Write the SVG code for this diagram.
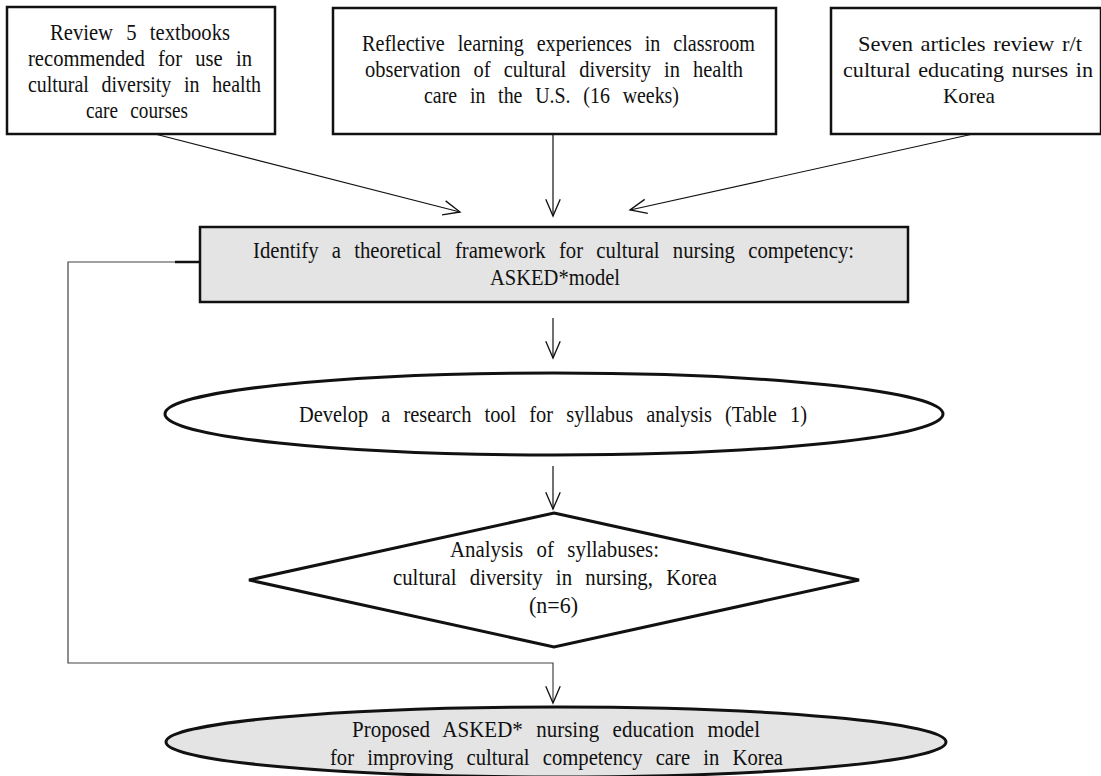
<svg xmlns="http://www.w3.org/2000/svg" width="1101" height="776" viewBox="0 0 1101 776">
<style>
text{font-family:"Liberation Serif","Times New Roman",serif;font-size:23px;fill:#111;word-spacing:9px}
.tight{font-size:22px;word-spacing:2px}
.box{fill:#fff;stroke:#111;stroke-width:2.5}
.gray{fill:#e4e4e4;stroke:#111;stroke-width:2.5}
.shape{fill:#fff;stroke:#111;stroke-width:3}
.shapeg{fill:#e4e4e4;stroke:#111;stroke-width:3}
.con{fill:none;stroke:#111;stroke-width:1.2}
.side{fill:none;stroke:#444;stroke-width:1.2}
</style>
<defs>
<marker id="v" markerUnits="userSpaceOnUse" markerWidth="20" markerHeight="20" viewBox="-16 -8 18 16" refX="0" refY="0" orient="auto">
<path d="M-15,-6.5 L0,0 L-15,6.5" fill="none" stroke="#111" stroke-width="1.2"/>
</marker>
</defs>
<rect width="1101" height="776" fill="#fff"/>
<g id="connectors">
<line class="con" x1="155" y1="134" x2="460" y2="212" marker-end="url(#v)"/>
<line class="con" x1="553" y1="134" x2="553" y2="216" marker-end="url(#v)"/>
<line class="con" x1="973" y1="134" x2="630" y2="210" marker-end="url(#v)"/>
<line class="con" x1="553" y1="318" x2="553" y2="358" marker-end="url(#v)"/>
<line class="con" x1="553" y1="466" x2="553" y2="509" marker-end="url(#v)"/>
<polyline class="side" points="175,262 68,262 68,663 553,663 553,703" marker-end="url(#v)"/>
<line x1="175" y1="262" x2="200" y2="262" stroke="#111" stroke-width="2.5"/>
</g>
<g id="n1" font-family="Liberation Serif, Times New Roman, serif">
<rect class="box" x="7" y="7" width="268" height="127"/>
<text x="50" y="40" textLength="180" lengthAdjust="spacingAndGlyphs">Review 5 textbooks</text>
<text x="28" y="66" textLength="224" lengthAdjust="spacingAndGlyphs">recommended for use in</text>
<text x="28" y="92" textLength="233" lengthAdjust="spacingAndGlyphs">cultural diversity in health</text>
<text x="86" y="118" textLength="102" lengthAdjust="spacingAndGlyphs">care courses</text>
</g>
<g id="n2" font-family="Liberation Serif, Times New Roman, serif">
<rect class="box" x="333" y="8" width="443" height="126"/>
<text x="362" y="51" textLength="393" lengthAdjust="spacingAndGlyphs">Reflective learning experiences in classroom</text>
<text x="365" y="77" textLength="378" lengthAdjust="spacingAndGlyphs">observation of cultural diversity in health</text>
<text x="424" y="103" textLength="255" lengthAdjust="spacingAndGlyphs">care in the U.S. (16 weeks)</text>
</g>
<g id="n3" font-family="Liberation Serif, Times New Roman, serif">
<rect class="box" x="831" y="8" width="270" height="126"/>
<text class="tight" x="858" y="51" textLength="224" lengthAdjust="spacingAndGlyphs">Seven articles review r/t</text>
<text class="tight" x="843" y="77" textLength="250" lengthAdjust="spacingAndGlyphs">cultural educating nurses in</text>
<text class="tight" x="943" y="103" textLength="52" lengthAdjust="spacingAndGlyphs">Korea</text>
</g>
<g id="n4" font-family="Liberation Serif, Times New Roman, serif">
<rect class="gray" x="200" y="227" width="708" height="75"/>
<text x="253" y="258" textLength="601" lengthAdjust="spacingAndGlyphs">Identify a theoretical framework for cultural nursing competency:</text>
<text x="490" y="285" textLength="130" lengthAdjust="spacingAndGlyphs">ASKED*model</text>
</g>
<g id="n5" font-family="Liberation Serif, Times New Roman, serif">
<ellipse class="shape" cx="554" cy="414" rx="389" ry="41"/>
<text x="299" y="422" textLength="508" lengthAdjust="spacingAndGlyphs">Develop a research tool for syllabus analysis (Table 1)</text>
</g>
<g id="n6" font-family="Liberation Serif, Times New Roman, serif">
<polygon class="shape" points="554,513 859,580 554,647 249,580"/>
<text x="450" y="557" textLength="209" lengthAdjust="spacingAndGlyphs">Analysis of syllabuses:</text>
<text x="393" y="585" textLength="324" lengthAdjust="spacingAndGlyphs">cultural diversity in nursing, Korea</text>
<text x="529" y="613" textLength="49" lengthAdjust="spacingAndGlyphs">(n=6)</text>
</g>
<g id="n7" font-family="Liberation Serif, Times New Roman, serif">
<ellipse class="shapeg" cx="556" cy="742" rx="390" ry="35"/>
<text x="352" y="737" textLength="408" lengthAdjust="spacingAndGlyphs">Proposed ASKED* nursing education model</text>
<text x="330" y="765" textLength="453" lengthAdjust="spacingAndGlyphs">for improving cultural competency care in Korea</text>
</g>
</svg>
